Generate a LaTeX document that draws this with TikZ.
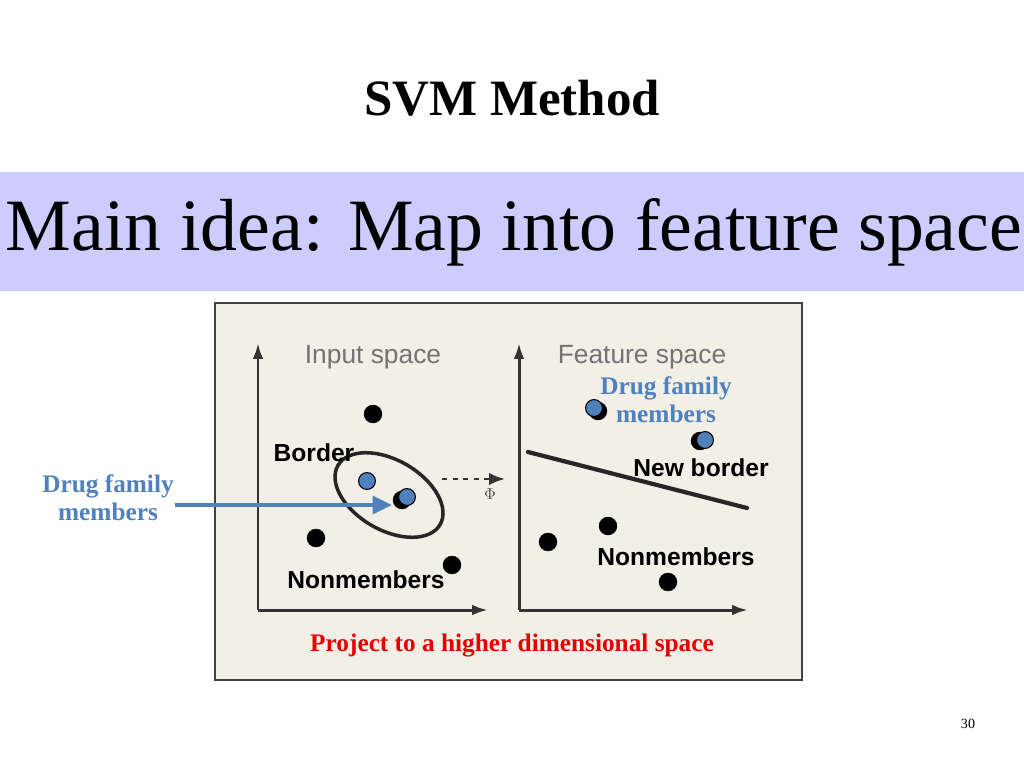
\documentclass[tikz,border=0pt]{standalone}
\usepackage{fontspec}
\setmainfont{Liberation Serif}
\setsansfont{Liberation Sans}
\usetikzlibrary{arrows.meta}

\definecolor{bandblue}{RGB}{204,204,255}
\definecolor{paper}{RGB}{241,239,230}
\definecolor{drugblue}{RGB}{79,129,189}
\definecolor{projred}{RGB}{230,0,0}

\tikzset{
	axis/.style={line width=1.7pt, draw=black!80, -{Latex[length=9, width=6]}},
	nonmember/.style={circle, fill=black, inner sep=0pt, minimum size=10.5pt},
	member/.style={circle, fill=drugblue, draw=black, line width=0.6pt, inner sep=0pt, minimum size=9.6pt},
	drugtext/.style={font=\fontsize{14.4}{16}\selectfont\bfseries, text=drugblue, align=center},
	marktext/.style={font=\sffamily\bfseries\fontsize{14}{16}\selectfont},
	spacetext/.style={font=\sffamily\fontsize{15}{17}\selectfont, text=black!55}
}

\begin{document}
\begin{tikzpicture}[x=0.02cm, y=-0.02cm]
\useasboundingbox (0,0) rectangle (1024,768);

\node (title) at (512,98) {\fontsize{29}{34}\selectfont\bfseries SVM Method};

% band with the main idea
\fill[bandblue] (0,172) rectangle (1024,291);
\node (idea) at (514,232) {\fontsize{42}{48}\selectfont Main idea: Map into feature space};

% the picture panel
\draw[fill=paper, draw=black!75, line width=1.5pt] (215,303) rectangle (802,680);

\coordinate (inO) at (258,610);
\coordinate (ftO) at (519,610);
\draw[axis] (inO) -- (258,343);
\draw[axis] (inO) -- (488,610);
\draw[axis] (ftO) -- (519,343);
\draw[axis] (ftO) -- (748,610);

\node[spacetext] (inlabel) at (373,357) {Input space};
\node[spacetext] (ftlabel) at (642,357) {Feature space};

% nonmembers and the dark points under the members
\foreach \name/\pos in {a/{(373,414)}, b/{(316,538)}, c/{(452,565)}, d/{(402,500)},
	e/{(548,542)}, f/{(608,526)}, g/{(668,582)}, h/{(598,411)}, i/{(700,441)}}
{
	\node[nonmember] (dot\name) at \pos {};
}

\draw[line width=2pt, black!85] (389,495) ellipse [x radius=59, y radius=35, rotate=-30];
\coordinate (border) at (353,453);

\node[member] (inA) at (367,481) {};
\node[member] (inB) at (407,497) {};
\node[member] (ftA) at (594,408) {};
\node[member] (ftB) at (705,440) {};

% the map phi
\coordinate (mapA) at (442,479);
\coordinate (mapB) at (505,479);
\draw[line width=1.4pt, black!80, dashed, -{Latex[length=9, width=7]}] (mapA) -- (mapB);
\node[font=\small, text=black!70] (phi) at (490,494) {$\Phi$};

\coordinate (sepA) at (528,452);
\coordinate (sepB) at (747,508);
\draw[line width=2.4pt, black!85, line cap=round] (sepA) -- (sepB);

\node[marktext] (bordertext) at (314,453) {Border};
\node[marktext] (innon) at (366,580) {Nonmembers};
\node[marktext] (newborder) at (701,468) {New border};
\node[marktext] (ftnon) at (676,557) {Nonmembers};

\node[drugtext] (drugleft) at (108,498) {Drug family\\members};
\node[drugtext] (drugright) at (666,400) {Drug family\\members};
\draw[drugblue, line width=2.4pt, -{Triangle[length=11, width=10]}] (175,505) -- (392,505);

\node[font=\fontsize{14.4}{16}\selectfont\bfseries, text=projred] (project) at (512,646) {Project to a higher dimensional space};

\node[font=\fontsize{8}{9}\selectfont] (page) at (968,724) {30};
\end{tikzpicture}
\end{document}
